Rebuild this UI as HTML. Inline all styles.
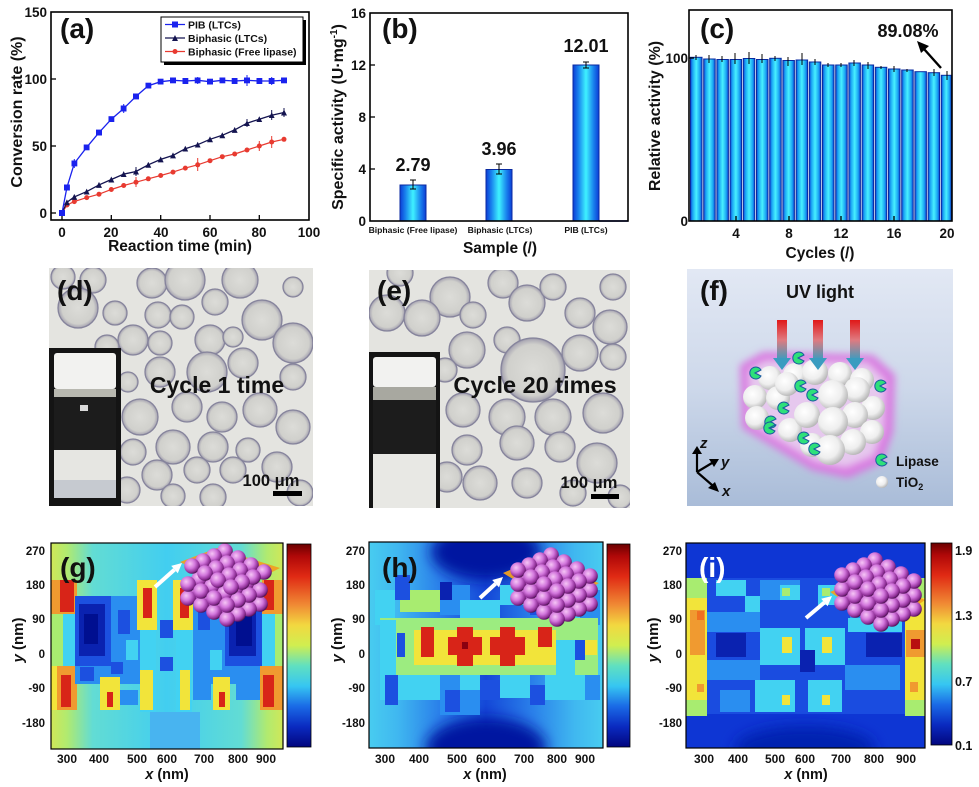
<!DOCTYPE html>
<html><head><meta charset="utf-8">
<style>
html,body{margin:0;padding:0;background:#fff;}
svg{display:block;}
text{font-family:"Liberation Sans",Arial,sans-serif;font-weight:bold;fill:#111;}
.bb{fill:url(#bub);stroke:#86849c;stroke-width:1.3;}
.hr{fill:#d82418}.ho{fill:#f09a30}.hy{fill:#f2e43a}.hg{fill:#a8ec70}.hc{fill:#42d2f2}
.hl{fill:#2a8ef0}.hb{fill:#1c50e0}.hd{fill:#0a22b0}.hn{fill:#000f90}
.sp{fill:url(#pk);}
.ws{fill:url(#wh);}
</style></head><body>
<svg width="979" height="787" viewBox="0 0 979 787" xmlns="http://www.w3.org/2000/svg">
<defs>
 <linearGradient id="barb" x1="0" x2="1" y1="0" y2="0">
  <stop offset="0" stop-color="#0b3cd6"/><stop offset="0.22" stop-color="#1a86ee"/><stop offset="0.5" stop-color="#3ff2ff"/><stop offset="0.78" stop-color="#1a86ee"/><stop offset="1" stop-color="#0b3cd6"/>
 </linearGradient>
 <linearGradient id="barc" x1="0" x2="1" y1="0" y2="0">
  <stop offset="0" stop-color="#0b4ad8"/><stop offset="0.2" stop-color="#1ca8f4"/><stop offset="0.5" stop-color="#48f0ff"/><stop offset="0.8" stop-color="#1ca8f4"/><stop offset="1" stop-color="#0b4ad8"/>
 </linearGradient>
 <linearGradient id="cmap" x1="0" x2="0" y1="0" y2="1">
  <stop offset="0" stop-color="#6a0000"/><stop offset="0.06" stop-color="#b00808"/><stop offset="0.16" stop-color="#e02a14"/><stop offset="0.3" stop-color="#f08a34"/><stop offset="0.4" stop-color="#f2d840"/><stop offset="0.5" stop-color="#d0ee50"/><stop offset="0.6" stop-color="#60e0c0"/><stop offset="0.7" stop-color="#36c6f2"/><stop offset="0.8" stop-color="#1a6ae6"/><stop offset="0.9" stop-color="#0a2ac0"/><stop offset="1" stop-color="#02067e"/>
 </linearGradient>
 <linearGradient id="gbg" x1="0" x2="1" y1="0" y2="0">
  <stop offset="0" stop-color="#d0e858"/><stop offset="0.07" stop-color="#b0ea70"/><stop offset="0.18" stop-color="#62dcd4"/><stop offset="0.5" stop-color="#42cef0"/><stop offset="0.82" stop-color="#62dcd4"/><stop offset="0.93" stop-color="#b0ea70"/><stop offset="1" stop-color="#d0e858"/>
 </linearGradient>
 <linearGradient id="hbg" x1="0" x2="1" y1="0" y2="0">
  <stop offset="0" stop-color="#48ccf0"/><stop offset="0.12" stop-color="#40b8f0"/><stop offset="0.3" stop-color="#2a80ea"/><stop offset="0.5" stop-color="#1448d8"/><stop offset="0.7" stop-color="#2a80ea"/><stop offset="0.88" stop-color="#40b8f0"/><stop offset="1" stop-color="#48ccf0"/>
 </linearGradient>
 <linearGradient id="fbg" x1="0" x2="0" y1="0" y2="1">
  <stop offset="0" stop-color="#e2e8f4"/><stop offset="0.5" stop-color="#cdd8ea"/><stop offset="1" stop-color="#a9bcd8"/>
 </linearGradient>
 <linearGradient id="uv" x1="0" x2="0" y1="0" y2="1">
  <stop offset="0" stop-color="#e01818"/><stop offset="0.5" stop-color="#e07a80"/><stop offset="1" stop-color="#3a9cc0"/>
 </linearGradient>
 <radialGradient id="pk" cx="0.38" cy="0.35" r="0.7">
  <stop offset="0" stop-color="#f6c6f6"/><stop offset="0.45" stop-color="#d276dc"/><stop offset="0.8" stop-color="#8e2e96"/><stop offset="1" stop-color="#3c0a40"/>
 </radialGradient>
 <radialGradient id="wh" cx="0.4" cy="0.38" r="0.65">
  <stop offset="0" stop-color="#ffffff"/><stop offset="0.6" stop-color="#eeeeee"/><stop offset="1" stop-color="#b4b4b4"/>
 </radialGradient>
 <radialGradient id="bub" cx="0.5" cy="0.5" r="0.5">
  <stop offset="0" stop-color="#dcdcd8"/><stop offset="0.8" stop-color="#d0d0cc"/><stop offset="0.95" stop-color="#aeacb6"/><stop offset="1" stop-color="#8a88a0"/>
 </radialGradient>
 <filter id="bl4" x="-50%" y="-50%" width="200%" height="200%"><feGaussianBlur stdDeviation="4"/></filter>
 <filter id="bl6" x="-50%" y="-50%" width="200%" height="200%"><feGaussianBlur stdDeviation="7"/></filter>
 <clipPath id="cd"><rect x="49" y="268" width="264" height="238"/></clipPath>
 <clipPath id="ce"><rect x="369" y="270" width="261" height="238"/></clipPath>
 <clipPath id="cf"><rect x="687" y="269" width="266" height="237"/></clipPath>
 <clipPath id="cg"><rect x="51" y="543" width="232" height="206"/></clipPath>
 <clipPath id="ch"><rect x="369" y="542" width="234" height="206"/></clipPath>
 <clipPath id="ci"><rect x="686" y="543" width="239" height="205"/></clipPath>
 <marker id="msq" markerWidth="6" markerHeight="6" refX="3" refY="3" markerUnits="userSpaceOnUse"><rect width="6" height="6" fill="#1a22ee"/></marker>
 <marker id="mtr" markerWidth="6" markerHeight="6" refX="3" refY="3" markerUnits="userSpaceOnUse"><polygon points="3,0 6,6 0,6" fill="#141450"/></marker>
 <marker id="mci" markerWidth="6" markerHeight="6" refX="3" refY="3" markerUnits="userSpaceOnUse"><circle cx="3" cy="3" r="2.5" fill="#e83a30"/></marker>
 <g id="layer">
  <circle class="sp" cx="33" cy="-15" r="7.8"/><circle class="sp" cx="46" cy="-8" r="7.8"/><circle class="sp" cx="59" cy="-1" r="7.8"/><circle class="sp" cx="72" cy="6" r="7.8"/>
  <circle class="sp" cx="22" cy="-10" r="7.8"/><circle class="sp" cx="35" cy="-3" r="7.8"/><circle class="sp" cx="48" cy="4" r="7.8"/><circle class="sp" cx="61" cy="11" r="7.8"/>
  <circle class="sp" cx="11" cy="-5" r="7.8"/><circle class="sp" cx="24" cy="2" r="7.8"/><circle class="sp" cx="37" cy="9" r="7.8"/><circle class="sp" cx="50" cy="16" r="7.8"/>
  <circle class="sp" cx="0" cy="0" r="7.8"/><circle class="sp" cx="13" cy="7" r="7.8"/><circle class="sp" cx="26" cy="14" r="7.8"/><circle class="sp" cx="39" cy="21" r="7.8"/>
 </g>
</defs>
<rect width="979" height="787" fill="#fff"/>

<!-- ===== (a) ===== -->
<rect x="51" y="12" width="258" height="208" fill="none" stroke="#000" stroke-width="1.6"/>
<g stroke="#000" stroke-width="1.3">
 <line x1="62" y1="220" x2="62" y2="215"/><line x1="111.3" y1="220" x2="111.3" y2="215"/><line x1="160.7" y1="220" x2="160.7" y2="215"/><line x1="210" y1="220" x2="210" y2="215"/><line x1="259.3" y1="220" x2="259.3" y2="215"/>
 <line x1="51" y1="213" x2="56" y2="213"/><line x1="51" y1="146" x2="56" y2="146"/><line x1="51" y1="79" x2="56" y2="79"/>
</g>
<g font-size="13.5" text-anchor="end">
 <text x="47" y="17">150</text><text x="47" y="84">100</text><text x="47" y="151">50</text><text x="47" y="218">0</text>
</g>
<g font-size="13.5" text-anchor="middle">
 <text x="62" y="237">0</text><text x="111" y="237">20</text><text x="161" y="237">40</text><text x="210" y="237">60</text><text x="259" y="237">80</text><text x="309" y="237">100</text>
</g>
<text x="180" y="251" font-size="15.5" text-anchor="middle">Reaction time (min)</text>
<text transform="translate(22,112) rotate(-90)" font-size="16" text-anchor="middle">Conversion rate (%)</text>
<text x="60" y="38" font-size="28">(a)</text>
<polyline fill="none" stroke="#e83a30" stroke-width="1.2" marker-start="url(#mci)" marker-mid="url(#mci)" marker-end="url(#mci)" points="62,213 66.9,205 74.3,201.6 86.7,197.6 99,194.2 111.3,189.5 123.7,185.5 136,182.2 148.3,178.8 160.7,175.5 173,172.1 185.3,168.1 197.7,164.8 210,160.7 222.3,156.7 234.7,154 247,150 259.3,146 271.7,142 284,139.3"/>
<polyline fill="none" stroke="#141450" stroke-width="1.3" marker-start="url(#mtr)" marker-mid="url(#mtr)" marker-end="url(#mtr)" points="62,213 66.9,202.3 74.3,196.9 86.7,191.6 99,184.9 111.3,179.5 123.7,174.1 136,171.5 148.3,164.8 160.7,159.4 173,155.4 185.3,148.7 197.7,144.7 210,139.3 222.3,135.3 234.7,129.9 247,123.2 259.3,119.2 271.7,115.2 284,112.5"/>
<polyline fill="none" stroke="#1a22ee" stroke-width="1.3" marker-start="url(#msq)" marker-mid="url(#msq)" marker-end="url(#msq)" points="62,213 66.9,187.5 74.3,163.4 86.7,147.3 99,132.6 111.3,119.2 123.7,108.5 136,96.4 148.3,85.7 160.7,81.7 173,80.3 185.3,81 197.7,80.3 210,81.7 222.3,80.3 234.7,81 247,80.3 259.3,81 271.7,81 284,80.3"/>
<g stroke-width="1" fill="none">
 <path stroke="#1a22ee" d="M74.3,159v9M123.7,104v9M247,75v11M271.7,77v8M197.7,77v7"/>
 <path stroke="#141450" d="M247,119v8M271.7,110v10M284,108v9M136,167v9"/>
 <path stroke="#e83a30" d="M136,177v10M197.7,158v13M271.7,136v12M259.3,141v10"/>
</g>
<rect x="164" y="20" width="142" height="45" fill="#000"/>
<rect x="161" y="17" width="142" height="45" fill="#fff" stroke="#000" stroke-width="1"/>
<line x1="165" y1="24.5" x2="185" y2="24.5" stroke="#1a22ee" stroke-width="1.3"/><rect x="172" y="21.5" width="6" height="6" fill="#1a22ee"/>
<line x1="165" y1="38" x2="185" y2="38" stroke="#141450" stroke-width="1.3"/><polygon points="175,35 178,41 172,41" fill="#141450"/>
<line x1="165" y1="51.5" x2="185" y2="51.5" stroke="#e83a30" stroke-width="1.3"/><circle cx="175" cy="51.5" r="2.5" fill="#e83a30"/>
<g font-size="10.5"><text x="188" y="28.5">PIB (LTCs)</text><text x="188" y="42">Biphasic (LTCs)</text><text x="188" y="55.5">Biphasic (Free lipase)</text></g>

<!-- ===== (b) ===== -->
<rect x="400" y="185" width="26" height="36" fill="url(#barb)" stroke="#0a2aa0" stroke-width="1"/>
<rect x="486" y="169.5" width="26" height="51.5" fill="url(#barb)" stroke="#0a2aa0" stroke-width="1"/>
<rect x="573" y="65" width="26" height="156" fill="url(#barb)" stroke="#0a2aa0" stroke-width="1"/>
<g stroke="#000" stroke-width="1" fill="none">
 <path d="M413,180v9M410,180h6M410,189h6"/><path d="M499,164v10M496,164h6M496,174h6"/><path d="M586,62v6M583,62h6M583,68h6"/>
</g>
<line x1="599" y1="221" x2="628" y2="221" stroke="#1a2ae0" stroke-width="1.5"/>
<rect x="370" y="13" width="258" height="208" fill="none" stroke="#000" stroke-width="1.6"/>
<g stroke="#000" stroke-width="1.3">
 <line x1="370" y1="169" x2="375" y2="169"/><line x1="370" y1="117" x2="375" y2="117"/><line x1="370" y1="65" x2="375" y2="65"/>
</g>
<g font-size="13.5" text-anchor="end">
 <text x="366" y="18">16</text><text x="366" y="70">12</text><text x="366" y="122">8</text><text x="366" y="174">4</text><text x="366" y="226">0</text>
</g>
<g font-size="8.6" text-anchor="middle">
 <text x="413" y="233">Biphasic (Free lipase)</text><text x="500" y="233">Biphasic (LTCs)</text><text x="586" y="233">PIB (LTCs)</text>
</g>
<g font-size="18" text-anchor="middle">
 <text x="413" y="171">2.79</text><text x="499" y="155">3.96</text><text x="586" y="52">12.01</text>
</g>
<text x="500" y="253" font-size="15.5" text-anchor="middle">Sample (/)</text>
<text transform="translate(343,117) rotate(-90)" font-size="16" text-anchor="middle">Specific activity (U·mg<tspan font-size="10" dy="-6">-1</tspan><tspan dy="6">)</tspan></text>
<text x="382" y="38" font-size="28">(b)</text>

<!-- ===== (c) ===== -->
<g stroke="#0a2aa0" stroke-width="1" fill="url(#barc)">
 <rect x="690.5" y="57.3" width="11.5" height="163.7"/><rect x="703.7" y="59" width="11.5" height="162"/><rect x="716.9" y="59.5" width="11.5" height="161.5"/><rect x="730.1" y="59.5" width="11.5" height="161.5"/><rect x="743.3" y="58.5" width="11.5" height="162.5"/>
 <rect x="756.5" y="59.5" width="11.5" height="161.5"/><rect x="769.7" y="58.3" width="11.5" height="162.7"/><rect x="782.9" y="60.5" width="11.5" height="160.5"/><rect x="796.1" y="60" width="11.5" height="161"/><rect x="809.3" y="62" width="11.5" height="159"/>
 <rect x="822.5" y="65" width="11.5" height="156"/><rect x="835.7" y="65" width="11.5" height="156"/><rect x="848.9" y="63" width="11.5" height="158"/><rect x="862.1" y="65" width="11.5" height="156"/><rect x="875.3" y="67.3" width="11.5" height="153.7"/>
 <rect x="888.5" y="69" width="11.5" height="152"/><rect x="901.7" y="70" width="11.5" height="151"/><rect x="914.9" y="71.7" width="11.5" height="149.3"/><rect x="928.1" y="72.7" width="11.5" height="148.3"/><rect x="941.3" y="75.3" width="10" height="145.7"/>
</g>
<g stroke="#000" stroke-width="1" fill="none">
 <path d="M696,55v5M709,55v8M722,56v6M735,53v11M749,52v12M762,54v9M775,56v5M788,57v9M802,53v12M815,59v6M828,63v4M841,63v4M854,60v6M868,62v7M881,66v3M894,66v6M907,69v3M934,69v7M947,71v9"/>
</g>
<rect x="689" y="10" width="263" height="211" fill="none" stroke="#000" stroke-width="1.6"/>
<g stroke="#000" stroke-width="1.3">
 <line x1="736" y1="221" x2="736" y2="216"/><line x1="789" y1="221" x2="789" y2="216"/><line x1="841" y1="221" x2="841" y2="216"/><line x1="894" y1="221" x2="894" y2="216"/>
 <line x1="689" y1="58" x2="694" y2="58"/>
</g>
<g font-size="13.5" text-anchor="end"><text x="688" y="63">100</text><text x="688" y="226">0</text></g>
<g font-size="13.5" text-anchor="middle">
 <text x="736" y="238">4</text><text x="789" y="238">8</text><text x="841" y="238">12</text><text x="894" y="238">16</text><text x="947" y="238">20</text>
</g>
<text x="820" y="258" font-size="15.5" text-anchor="middle">Cycles (/)</text>
<text transform="translate(660,116) rotate(-90)" font-size="16" text-anchor="middle">Relative activity (%)</text>
<text x="700" y="38" font-size="28">(c)</text>
<text x="908" y="37" font-size="18" text-anchor="middle">89.08%</text>
<line x1="941" y1="68" x2="924" y2="49" stroke="#000" stroke-width="2.4"/>
<polygon points="917,41 929,46 921,53" fill="#000"/>

<!-- ===== (d) ===== -->
<g clip-path="url(#cd)">
 <rect x="49" y="268" width="264" height="238" fill="#e4e4e0"/>
 <g>
  <circle class="bb" cx="63" cy="277" r="12"/><circle class="bb" cx="93" cy="280" r="13"/><circle class="bb" cx="78" cy="308" r="20"/><circle class="bb" cx="152" cy="283" r="15"/><circle class="bb" cx="185" cy="280" r="20"/>
  <circle class="bb" cx="215" cy="302" r="13"/><circle class="bb" cx="240" cy="280" r="18"/><circle class="bb" cx="262" cy="320" r="20"/><circle class="bb" cx="293" cy="343" r="20"/><circle class="bb" cx="293" cy="287" r="10"/>
  <circle class="bb" cx="158" cy="315" r="13"/><circle class="bb" cx="182" cy="317" r="12"/><circle class="bb" cx="133" cy="340" r="15"/><circle class="bb" cx="160" cy="343" r="12"/><circle class="bb" cx="210" cy="340" r="15"/>
  <circle class="bb" cx="233" cy="337" r="10"/><circle class="bb" cx="115" cy="313" r="12"/><circle class="bb" cx="107" cy="347" r="12"/><circle class="bb" cx="160" cy="372" r="15"/><circle class="bb" cx="207" cy="372" r="20"/>
  <circle class="bb" cx="243" cy="363" r="15"/><circle class="bb" cx="293" cy="377" r="13"/><circle class="bb" cx="140" cy="417" r="18"/><circle class="bb" cx="187" cy="407" r="15"/><circle class="bb" cx="222" cy="417" r="15"/>
  <circle class="bb" cx="260" cy="410" r="17"/><circle class="bb" cx="293" cy="427" r="17"/><circle class="bb" cx="133" cy="452" r="13"/><circle class="bb" cx="173" cy="447" r="17"/><circle class="bb" cx="213" cy="447" r="15"/>
  <circle class="bb" cx="248" cy="450" r="12"/><circle class="bb" cx="157" cy="475" r="15"/><circle class="bb" cx="197" cy="470" r="13"/><circle class="bb" cx="233" cy="470" r="13"/><circle class="bb" cx="277" cy="467" r="15"/>
  <circle class="bb" cx="127" cy="490" r="13"/><circle class="bb" cx="173" cy="496" r="12"/><circle class="bb" cx="213" cy="497" r="13"/><circle class="bb" cx="300" cy="493" r="13"/><circle class="bb" cx="128" cy="382" r="10"/>
 </g>
 <rect x="49" y="348" width="72" height="158" fill="#141414"/>
 <rect x="54" y="353" width="62" height="36" rx="3" fill="#f2f2f0"/>
 <rect x="54" y="389" width="62" height="8" fill="#b8b8b0"/>
 <rect x="54" y="397" width="62" height="53" fill="#1c1c1c"/>
 <rect x="80" y="405" width="8" height="6" fill="#d8d8d8"/>
 <rect x="54" y="450" width="62" height="30" fill="#e6e6e2"/>
 <rect x="54" y="480" width="62" height="18" fill="#c6cad0"/>
</g>
<text x="57" y="300" font-size="28">(d)</text>
<text x="217" y="393" font-size="23" text-anchor="middle">Cycle 1 time</text>
<text x="271" y="486" font-size="16.5" text-anchor="middle">100 μm</text>
<rect x="273" y="491" width="29" height="5" fill="#000"/>

<!-- ===== (e) ===== -->
<g clip-path="url(#ce)">
 <rect x="369" y="270" width="261" height="238" fill="#e4e4e0"/>
 <g>
  <circle class="bb" cx="400" cy="273" r="13"/><circle class="bb" cx="387" cy="313" r="18"/><circle class="bb" cx="450" cy="297" r="20"/><circle class="bb" cx="422" cy="318" r="18"/><circle class="bb" cx="503" cy="283" r="15"/>
  <circle class="bb" cx="473" cy="315" r="13"/><circle class="bb" cx="527" cy="303" r="18"/><circle class="bb" cx="553" cy="287" r="13"/><circle class="bb" cx="580" cy="313" r="15"/><circle class="bb" cx="610" cy="327" r="17"/>
  <circle class="bb" cx="613" cy="287" r="13"/><circle class="bb" cx="467" cy="350" r="18"/><circle class="bb" cx="507" cy="340" r="13"/><circle class="bb" cx="533" cy="370" r="32"/><circle class="bb" cx="580" cy="353" r="18"/>
  <circle class="bb" cx="613" cy="357" r="13"/><circle class="bb" cx="463" cy="410" r="17"/><circle class="bb" cx="507" cy="417" r="18"/><circle class="bb" cx="553" cy="417" r="18"/><circle class="bb" cx="603" cy="413" r="20"/>
  <circle class="bb" cx="467" cy="450" r="15"/><circle class="bb" cx="517" cy="443" r="17"/><circle class="bb" cx="560" cy="447" r="15"/><circle class="bb" cx="597" cy="463" r="20"/><circle class="bb" cx="480" cy="483" r="17"/>
  <circle class="bb" cx="527" cy="483" r="15"/><circle class="bb" cx="447" cy="477" r="15"/><circle class="bb" cx="573" cy="493" r="13"/><circle class="bb" cx="620" cy="497" r="12"/><circle class="bb" cx="445" cy="370" r="12"/>
 </g>
 <rect x="369" y="352" width="71" height="156" fill="#141414"/>
 <rect x="373" y="357" width="63" height="30" rx="3" fill="#f2f2f0"/>
 <rect x="373" y="387" width="63" height="13" fill="#a8a8a0"/>
 <rect x="373" y="400" width="63" height="54" fill="#1c1c1c"/>
 <rect x="373" y="454" width="63" height="54" fill="#e8e8e4"/>
</g>
<text x="377" y="300" font-size="28">(e)</text>
<text x="535" y="393" font-size="23.5" text-anchor="middle">Cycle 20 times</text>
<text x="589" y="488" font-size="16.5" text-anchor="middle">100 μm</text>
<rect x="591" y="494" width="28" height="5" fill="#000"/>

<!-- ===== (f) ===== -->
<g clip-path="url(#cf)">
 <rect x="687" y="269" width="266" height="237" fill="url(#fbg)"/>
 <path d="M740,365 L763,352 L873,355 L895,375 L893,432 L882,463 L848,478 L812,470 L742,428 Z" fill="#d878e0" filter="url(#bl4)"/>
 <path d="M748,370 L765,360 L868,362 L886,380 L884,430 L874,456 L846,468 L815,462 L750,424 Z" fill="#e6c8ee" filter="url(#bl4)"/>
 <g>
  <circle class="ws" cx="770" cy="378" r="12"/><circle class="ws" cx="795" cy="375" r="12"/><circle class="ws" cx="815" cy="372" r="13"/><circle class="ws" cx="840" cy="374" r="12"/><circle class="ws" cx="862" cy="380" r="12"/>
  <circle class="ws" cx="755" cy="397" r="12"/><circle class="ws" cx="778" cy="398" r="12"/><circle class="ws" cx="787" cy="384" r="12"/><circle class="ws" cx="873" cy="408" r="12"/><circle class="ws" cx="857" cy="390" r="13"/>
  <circle class="ws" cx="757" cy="418" r="12"/><circle class="ws" cx="790" cy="430" r="12"/><circle class="ws" cx="807" cy="415" r="13"/><circle class="ws" cx="855" cy="415" r="13"/><circle class="ws" cx="872" cy="432" r="12"/>
  <circle class="ws" cx="853" cy="442" r="13"/><circle class="ws" cx="812" cy="445" r="12"/>
  <circle class="ws" cx="833" cy="395" r="15"/><circle class="ws" cx="833" cy="422" r="15"/><circle class="ws" cx="830" cy="450" r="15"/>
 </g>
 <g fill="#2ee07a" stroke="#1a5aa0" stroke-width="1">
  <path d="M755,373 L761,370 A6,6 0 1,0 761,376 Z"/><path d="M800,386 L806,383 A6,6 0 1,0 806,389 Z"/><path d="M798,358 L804,355 A6,6 0 1,0 804,361 Z"/>
  <path d="M880,386 L886,383 A6,6 0 1,0 886,389 Z"/><path d="M783,408 L789,405 A6,6 0 1,0 789,411 Z"/><path d="M770,422 L776,419 A6,6 0 1,0 776,425 Z"/>
  <path d="M803,438 L809,435 A6,6 0 1,0 809,441 Z"/><path d="M814,449 L820,446 A6,6 0 1,0 820,452 Z"/><path d="M812,395 L818,392 A6,6 0 1,0 818,398 Z"/>
  <path d="M769,428 L775,425 A6,6 0 1,0 775,431 Z"/>
 </g>
 <g>
  <rect x="777" y="320" width="10" height="40" fill="url(#uv)"/><polygon points="773,358 791,358 782,370" fill="#3a9cc0"/>
  <rect x="813" y="320" width="10" height="40" fill="url(#uv)"/><polygon points="809,358 827,358 818,370" fill="#3a9cc0"/>
  <rect x="850" y="320" width="10" height="40" fill="url(#uv)"/><polygon points="846,358 864,358 855,370" fill="#3a9cc0"/>
 </g>
 <g stroke="#000" stroke-width="2.2" fill="#000">
  <line x1="697" y1="472" x2="697" y2="452"/><polygon points="692,454 702,454 697,446" stroke="none"/>
  <line x1="697" y1="472" x2="712" y2="463"/><polygon points="709,459 714,467 719,459" stroke="none"/>
  <line x1="697" y1="472" x2="712" y2="485"/><polygon points="708,488 715,482 719,492" stroke="none"/>
 </g>
 <text x="700" y="448" font-size="15" font-style="italic">z</text>
 <text x="721" y="467" font-size="15" font-style="italic">y</text>
 <text x="722" y="496" font-size="15" font-style="italic">x</text>
 <path d="M881,460 L887,457 A6,6 0 1,0 887,463 Z" fill="#2ee07a" stroke="#1a5aa0" stroke-width="1"/>
 <circle class="ws" cx="882" cy="482" r="6"/>
 <text x="896" y="466" font-size="13.5">Lipase</text>
 <text x="896" y="487" font-size="13.5">TiO<tspan font-size="9" dy="3">2</tspan></text>
</g>
<text x="700" y="300" font-size="28">(f)</text>
<text x="820" y="298" font-size="18" text-anchor="middle">UV light</text>

<!-- ===== (g) ===== -->
<g clip-path="url(#cg)">
 <rect x="51" y="543" width="232" height="206" fill="url(#gbg)"/>
 <rect x="150" y="712" width="50" height="37" fill="#48b4f0"/>
 <rect x="140" y="580" width="16" height="132" class="hc"/>
 <rect x="176" y="580" width="16" height="132" class="hc"/>
 <rect x="51" y="580" width="26" height="34" class="ho"/><rect x="60" y="580" width="14" height="32" class="hr"/>
 <rect x="51" y="614" width="12" height="52" class="hg"/><rect x="63" y="614" width="12" height="52" class="hc"/>
 <rect x="51" y="666" width="26" height="44" class="ho"/><rect x="61" y="675" width="10" height="32" class="hr"/><rect x="51" y="666" width="6" height="44" class="hy"/>
 <rect x="75" y="596" width="36" height="70" class="hb"/><rect x="79" y="604" width="26" height="52" class="hd"/><rect x="84" y="614" width="14" height="30" class="hn"/>
 <rect x="111" y="596" width="29" height="88" class="hl"/><rect x="118" y="610" width="12" height="24" class="hb"/><rect x="126" y="640" width="12" height="20" class="hc"/><rect x="111" y="662" width="12" height="12" class="hb"/>
 <rect x="75" y="666" width="36" height="18" class="hl"/><rect x="80" y="667" width="14" height="14" class="hb"/>
 <rect x="137" y="580" width="20" height="50" class="hy"/><rect x="143" y="588" width="9" height="30" class="hr"/>
 <rect x="173" y="580" width="20" height="50" class="hy"/><rect x="180" y="588" width="9" height="30" class="hr"/>
 <rect x="160" y="620" width="13" height="18" class="hb"/><rect x="160" y="657" width="13" height="14" class="hb"/>
 <rect x="193" y="596" width="32" height="88" class="hl"/><rect x="198" y="610" width="12" height="20" class="hb"/><rect x="210" y="650" width="12" height="20" class="hc"/>
 <rect x="225" y="596" width="37" height="70" class="hb"/><rect x="229" y="606" width="27" height="50" class="hd"/><rect x="236" y="616" width="16" height="30" class="hn"/>
 <rect x="225" y="666" width="37" height="18" class="hl"/>
 <rect x="262" y="580" width="21" height="34" class="ho"/><rect x="264" y="580" width="10" height="30" class="hr"/>
 <rect x="262" y="614" width="13" height="52" class="hc"/><rect x="275" y="614" width="8" height="52" class="hg"/>
 <rect x="260" y="666" width="23" height="44" class="ho"/><rect x="263" y="675" width="11" height="32" class="hr"/>
 <rect x="100" y="677" width="20" height="33" class="hy"/><rect x="107" y="692" width="6" height="15" class="hr"/>
 <rect x="213" y="677" width="17" height="33" class="hy"/><rect x="219" y="692" width="6" height="15" class="hr"/>
 <rect x="140" y="670" width="13" height="40" class="hy"/><rect x="180" y="670" width="10" height="40" class="hy"/>
 <rect x="120" y="690" width="18" height="15" class="hl"/><rect x="193" y="684" width="18" height="16" class="hl"/><rect x="236" y="684" width="24" height="16" class="hl"/>
 <line x1="155" y1="587" x2="174.5" y2="569.6" stroke="#fff" stroke-width="4"/>
 <polygon points="182,563 177.8,573.3 171.2,565.9" fill="#fff"/>
 <use href="#layer" x="188" y="598"/>
 <use href="#layer" x="188" y="584"/>
 <polygon points="180,562 217,548 280,568 237,590" fill="#f0a020" opacity="0.95"/>
 <use href="#layer" x="192" y="566"/>
</g>
<rect x="51" y="543" width="232" height="206" fill="none" stroke="#000" stroke-width="1.2"/>
<rect x="287" y="544" width="24" height="203" fill="url(#cmap)" stroke="#000" stroke-width="0.8"/>
<text x="60" y="577" font-size="28">(g)</text>
<g font-size="11.5" text-anchor="end">
 <text x="45" y="555">270</text><text x="45" y="589">180</text><text x="45" y="623">90</text><text x="45" y="658">0</text><text x="45" y="692">-90</text><text x="45" y="727">-180</text>
</g>
<g font-size="12" text-anchor="middle">
 <text x="67" y="763">300</text><text x="99" y="763">400</text><text x="137" y="763">500</text><text x="167" y="763">600</text><text x="204" y="763">700</text><text x="238" y="763">800</text><text x="266" y="763">900</text>
</g>
<text x="167" y="779" font-size="14.5" text-anchor="middle"><tspan font-style="italic">x</tspan> (nm)</text>
<text transform="translate(23,640) rotate(-90)" font-size="15" text-anchor="middle"><tspan font-style="italic">y</tspan> (nm)</text>

<!-- ===== (h) ===== -->
<g clip-path="url(#ch)">
 <rect x="369" y="542" width="234" height="206" fill="url(#hbg)"/>
 <ellipse cx="486" cy="552" rx="55" ry="28" fill="#0418a0" filter="url(#bl6)"/>
 <ellipse cx="486" cy="748" rx="60" ry="30" fill="#0418a0" filter="url(#bl6)"/>
 <rect x="375" y="590" width="20" height="35" class="hc"/><rect x="400" y="590" width="40" height="22" class="hg"/><rect x="395" y="575" width="15" height="25" class="hb"/>
 <rect x="440" y="585" width="30" height="30" class="hl"/><rect x="460" y="600" width="40" height="18" class="hc"/><rect x="440" y="582" width="12" height="18" class="hd"/>
 <rect x="500" y="585" width="30" height="20" class="hc"/><rect x="530" y="590" width="15" height="25" class="hb"/><rect x="545" y="600" width="35" height="20" class="hc"/><rect x="580" y="590" width="20" height="35" class="hl"/>
 <rect x="380" y="618" width="218" height="57" fill="#9cec80"/>
 <rect x="380" y="620" width="16" height="55" class="hc"/><rect x="397" y="633" width="8" height="24" class="hb"/>
 <rect x="414" y="630" width="142" height="35" class="hy"/>
 <rect x="421" y="627" width="13" height="30" class="hr"/>
 <rect x="448" y="637" width="34" height="18" class="hr"/><rect x="457" y="627" width="16" height="39" class="hr"/><rect x="462" y="642" width="6" height="7" fill="#8a0010"/>
 <rect x="490" y="637" width="35" height="18" class="hr"/><rect x="500" y="627" width="15" height="39" class="hr"/>
 <rect x="538" y="627" width="14" height="20" class="hr"/>
 <rect x="556" y="640" width="19" height="35" class="hc"/><rect x="575" y="640" width="10" height="20" class="hb"/><rect x="585" y="640" width="12" height="15" class="hy"/>
 <rect x="380" y="675" width="60" height="25" class="hc"/><rect x="385" y="675" width="13" height="30" class="hb"/>
 <rect x="440" y="675" width="40" height="40" class="hl"/><rect x="445" y="690" width="15" height="22" class="hb"/><rect x="460" y="675" width="20" height="15" class="hc"/>
 <rect x="480" y="680" width="20" height="20" class="hb"/><rect x="500" y="675" width="30" height="23" class="hc"/><rect x="530" y="685" width="15" height="20" class="hb"/>
 <rect x="545" y="675" width="40" height="25" class="hc"/><rect x="585" y="675" width="15" height="25" class="hl"/>
 <line x1="480" y1="598" x2="495.6" y2="583.7" stroke="#fff" stroke-width="4"/>
 <polygon points="503,577 499,587.4 492.2,580" fill="#fff"/>
 <use href="#layer" x="518" y="598"/>
 <polygon points="503,573 533,560 599,583 560,607" fill="#f0a020" opacity="0.95"/>
 <use href="#layer" x="518" y="584"/>
 <use href="#layer" x="518" y="570"/>
</g>
<rect x="369" y="542" width="234" height="206" fill="none" stroke="#000" stroke-width="1.2"/>
<rect x="607" y="544" width="23" height="203" fill="url(#cmap)" stroke="#000" stroke-width="0.8"/>
<text x="382" y="577" font-size="28">(h)</text>
<g font-size="11.5" text-anchor="end">
 <text x="365" y="555">270</text><text x="365" y="589">180</text><text x="365" y="623">90</text><text x="365" y="658">0</text><text x="365" y="692">-90</text><text x="365" y="727">-180</text>
</g>
<g font-size="12" text-anchor="middle">
 <text x="385" y="763">300</text><text x="419" y="763">400</text><text x="457" y="763">500</text><text x="486" y="763">600</text><text x="524" y="763">700</text><text x="557" y="763">800</text><text x="585" y="763">900</text>
</g>
<text x="485" y="779" font-size="14.5" text-anchor="middle"><tspan font-style="italic">x</tspan> (nm)</text>
<text transform="translate(342,640) rotate(-90)" font-size="15" text-anchor="middle"><tspan font-style="italic">y</tspan> (nm)</text>

<!-- ===== (i) ===== -->
<g clip-path="url(#ci)">
 <rect x="686" y="543" width="239" height="205" fill="#1a4ce0"/>
 <rect x="686" y="543" width="239" height="35" fill="#0e36d4"/>
 <rect x="686" y="714" width="239" height="34" fill="#0e36d4"/>
 <ellipse cx="805" cy="748" rx="70" ry="22" fill="#0420b0" filter="url(#bl6)"/>
 <rect x="686" y="578" width="21" height="138" class="hy"/><rect x="686" y="578" width="21" height="20" class="hg"/>
 <rect x="690" y="610" width="15" height="45" class="ho"/><rect x="697" y="611" width="7" height="9" fill="#f07020"/>
 <rect x="697" y="684" width="7" height="8" class="ho"/><rect x="686" y="700" width="21" height="16" class="hg"/>
 <rect x="905" y="578" width="20" height="138" class="hy"/><rect x="905" y="578" width="20" height="20" class="hg"/>
 <rect x="906" y="630" width="19" height="27" class="ho"/><rect x="911" y="639" width="9" height="10" fill="#b81010"/>
 <rect x="910" y="682" width="8" height="10" class="ho"/><rect x="905" y="700" width="20" height="16" class="hg"/>
 <rect x="716" y="580" width="30" height="16" class="hc"/><rect x="745" y="596" width="15" height="16" class="hc"/>
 <rect x="760" y="580" width="40" height="20" class="hl"/><rect x="780" y="585" width="20" height="15" class="hc"/><rect x="782" y="588" width="8" height="8" class="hg"/>
 <rect x="818" y="585" width="22" height="20" class="hc"/><rect x="822" y="588" width="8" height="8" class="hg"/>
 <rect x="707" y="612" width="53" height="20" class="hl"/>
 <rect x="760" y="628" width="40" height="37" class="hc"/><rect x="782" y="637" width="10" height="16" class="hy"/>
 <rect x="805" y="628" width="40" height="37" class="hc"/><rect x="822" y="637" width="10" height="16" class="hy"/>
 <rect x="716" y="633" width="30" height="24" class="hd"/><rect x="866" y="633" width="36" height="24" class="hd"/><rect x="800" y="650" width="15" height="22" class="hd"/>
 <rect x="848" y="618" width="54" height="14" class="hc"/><rect x="850" y="600" width="55" height="18" class="hl"/>
 <rect x="707" y="660" width="53" height="20" class="hl"/>
 <rect x="755" y="680" width="40" height="32" class="hc"/><rect x="782" y="695" width="8" height="10" class="hy"/>
 <rect x="808" y="680" width="34" height="32" class="hc"/><rect x="822" y="695" width="8" height="10" class="hy"/>
 <rect x="845" y="665" width="55" height="25" class="hl"/><rect x="720" y="690" width="30" height="22" class="hl"/>
 <line x1="806" y1="618" x2="824.4" y2="602.5" stroke="#fff" stroke-width="4"/>
 <polygon points="832,596 827.6,606.3 821.2,598.7" fill="#fff"/>
 <polygon points="830,592 872,575 925,600 885,628" fill="#f0a020" opacity="0.95"/>
 <use href="#layer" x="842" y="603"/>
 <use href="#layer" x="842" y="589"/>
 <use href="#layer" x="842" y="575"/>
</g>
<rect x="686" y="543" width="239" height="205" fill="none" stroke="#000" stroke-width="1.2"/>
<rect x="931" y="543" width="21" height="202" fill="url(#cmap)" stroke="#000" stroke-width="0.8"/>
<text x="699" y="577" font-size="28" style="fill:#fff">(i)</text>
<g font-size="12.5">
 <text x="955" y="555">1.9</text><text x="955" y="620">1.3</text><text x="955" y="686">0.7</text><text x="955" y="750">0.1</text>
</g>
<g font-size="11.5" text-anchor="end">
 <text x="682" y="555">270</text><text x="682" y="589">180</text><text x="682" y="623">90</text><text x="682" y="658">0</text><text x="682" y="692">-90</text><text x="682" y="727">-180</text>
</g>
<g font-size="12" text-anchor="middle">
 <text x="704" y="763">300</text><text x="738" y="763">400</text><text x="775" y="763">500</text><text x="805" y="763">600</text><text x="841" y="763">700</text><text x="874" y="763">800</text><text x="906" y="763">900</text>
</g>
<text x="806" y="779" font-size="14.5" text-anchor="middle"><tspan font-style="italic">x</tspan> (nm)</text>
<text transform="translate(658,640) rotate(-90)" font-size="15" text-anchor="middle"><tspan font-style="italic">y</tspan> (nm)</text>
</svg>
</body></html>
